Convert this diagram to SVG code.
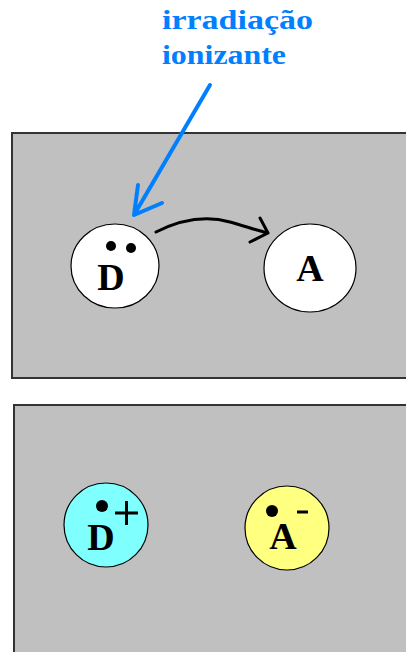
<svg xmlns="http://www.w3.org/2000/svg" width="406" height="652" viewBox="0 0 406 652">
<style>
.panel{fill:#c0c0c0;stroke:#333;stroke-width:2}
.node{stroke:#000;stroke-width:1.2}
.lbl{font-family:"Liberation Serif","Times New Roman",serif;font-weight:bold;font-size:38px;fill:#000;text-anchor:middle}
.title{font-family:"Liberation Serif","Times New Roman",serif;font-weight:bold;font-size:27px;fill:#0080ff}
</style>
<rect width="406" height="652" fill="#fff"/>
<g id="panel-top"><rect class="panel" x="12" y="133" width="400" height="245"/></g>
<g id="panel-bottom"><rect class="panel" x="14" y="405" width="400" height="252"/></g>
<g id="label-irradiacao">
<text class="title" x="162" y="29" textLength="151" lengthAdjust="spacingAndGlyphs">irradiação</text>
<text class="title" x="162" y="64" textLength="124" lengthAdjust="spacingAndGlyphs">ionizante</text>
</g>
<g id="node-D">
<ellipse class="node" cx="115" cy="266" rx="44" ry="42" fill="#fff"/>
<text class="lbl" x="111" y="290">D</text>
<circle cx="111" cy="246" r="5"/>
<circle cx="131" cy="248" r="5"/>
</g>
<g id="node-A">
<ellipse class="node" cx="310" cy="268" rx="46" ry="44" fill="#fff"/>
<text class="lbl" x="310" y="281">A</text>
</g>
<g id="node-Dplus">
<circle class="node" cx="106" cy="525" r="42" fill="#80ffff"/>
<text class="lbl" x="101" y="550">D</text>
<circle cx="102" cy="506" r="6"/>
<path d="M115 513H138M126.5 501V525" stroke="#000" stroke-width="3"/>
</g>
<g id="node-Aminus">
<circle class="node" cx="287" cy="528" r="42" fill="#ffff80"/>
<text class="lbl" x="283" y="549">A</text>
<circle cx="272" cy="511" r="6"/>
<path d="M297 512H308" stroke="#000" stroke-width="3"/>
</g>
<g id="connectors" fill="none" stroke-linecap="round" stroke-linejoin="round">
<path d="M210 85L134 215M134 215L138 185M134 215L162 203" stroke="#0080ff" stroke-width="4"/>
<path d="M156 232C180 220 205 215 230 222C245 226 255 230 268 233M268 233L260 218M268 233L250 242" stroke="#000" stroke-width="3"/>
</g>
</svg>
